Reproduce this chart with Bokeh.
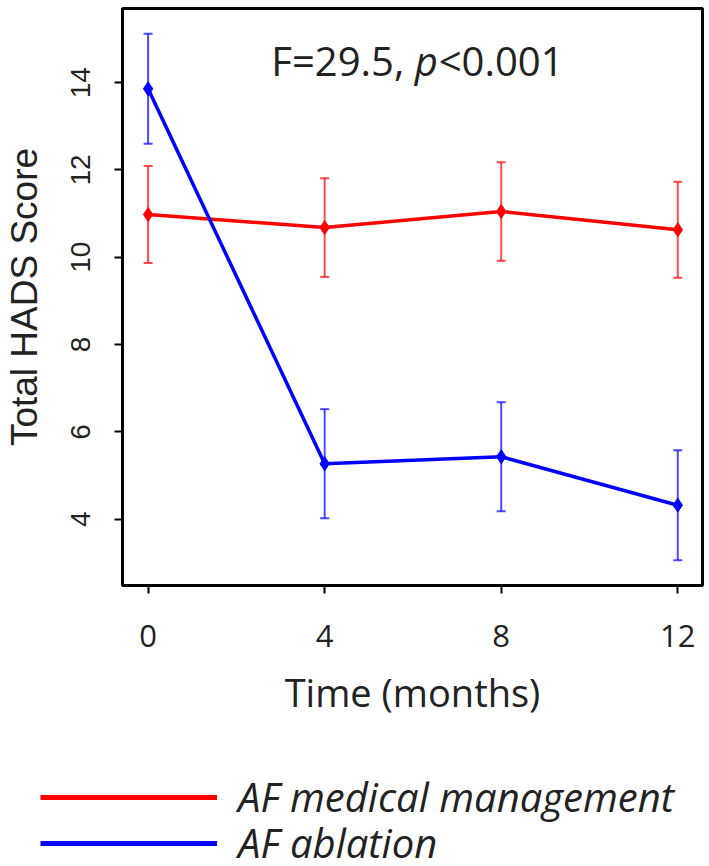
from bokeh.plotting import figure
from bokeh.models import (ColumnDataSource, FixedTicker, Range1d, Legend, LegendItem,
                          Whisker, TeeHead, Label)
from bokeh.embed import file_html
from bokeh.resources import INLINE

# ---- data ----
months = [0, 4, 8, 12]
medical_mean = [10.98, 10.68, 11.05, 10.63]
medical_err = [1.11, 1.13, 1.13, 1.10]
ablation_mean = [13.86, 5.27, 5.43, 4.32]
ablation_err = [1.26, 1.25, 1.25, 1.26]
x_ticks = [0, 4, 8, 12]
y_ticks = [4, 6, 8, 10, 12, 14]
series_names = ["AF medical management", "AF ablation"]
stat_left = "F=29.5, "
stat_p = "p"
stat_right = "<0.001"

RED = "#ff0000"
BLUE = "#0000ff"
CAL = "Open Sans"
ARI = "Liberation Sans"
TXT = "#222222"

p = figure(width=708, height=720, output_backend="svg", toolbar_location=None,
           x_range=Range1d(-0.58, 12.56), y_range=Range1d(2.48, 15.70),
           min_border_left=118, min_border_right=6, min_border_top=8,
           min_border_bottom=130)
p.grid.visible = False
p.outline_line_color = "black"
p.outline_line_width = 3
p.background_fill_color = "white"
p.border_fill_color = "white"

def src(mean, err):
    return ColumnDataSource(dict(x=months, y=mean,
                                 lo=[m - e for m, e in zip(mean, err)],
                                 hi=[m + e for m, e in zip(mean, err)]))

s_med = src(medical_mean, medical_err)
s_abl = src(ablation_mean, ablation_err)

for s, col in [(s_med, RED), (s_abl, BLUE)]:
    w = Whisker(source=s, base="x", upper="hi", lower="lo",
                line_color=col, line_width=2, line_alpha=0.7,
                upper_head=TeeHead(size=9, line_color=col, line_width=2, line_alpha=0.7),
                lower_head=TeeHead(size=9, line_color=col, line_width=2, line_alpha=0.7))
    p.add_layout(w)
    p.line("x", "y", source=s, line_color=col, line_width=3.5)
    p.scatter("x", "y", source=s, marker="diamond", size=14, color=col)

# axes
p.xaxis.ticker = FixedTicker(ticks=x_ticks)
p.yaxis.ticker = FixedTicker(ticks=y_ticks)
for ax in (p.xaxis[0], p.yaxis[0]):
    ax.minor_tick_line_color = None
    ax.major_tick_in = 0
    ax.major_tick_out = 8
    ax.major_tick_line_width = 2
    ax.axis_line_width = 3
    ax.major_label_text_color = TXT
    ax.axis_label_text_color = TXT
    ax.axis_label_text_font_style = "normal"

p.xaxis.major_label_text_font = CAL
p.xaxis.major_label_text_font_size = "31px"
p.xaxis.major_label_standoff = 31
p.xaxis.axis_label = "Time (months)"
p.xaxis.axis_label_text_font = CAL
p.xaxis.axis_label_text_font_size = "38px"
p.xaxis.axis_label_standoff = 16

p.yaxis.major_label_orientation = "vertical"
p.yaxis.major_label_text_font = ARI
p.yaxis.major_label_text_font_size = "28px"
p.yaxis.major_label_standoff = 24
p.yaxis.axis_label = "Total HADS Score"
p.yaxis.axis_label_text_font = ARI
p.yaxis.axis_label_text_font_size = "37px"
p.yaxis.axis_label_standoff = 24

# annotation (F statistic with italic p)
ax_x, ax_y = 6.04, 14.52
p.add_layout(Label(x=ax_x, y=ax_y, text=stat_left, text_font=CAL, text_font_size="40px",
                   text_align="right", text_baseline="alphabetic", text_color=TXT))
p.add_layout(Label(x=ax_x, y=ax_y, text=stat_p, text_font=CAL, text_font_size="40px",
                   text_font_style="italic", text_align="left", text_baseline="alphabetic",
                   text_color=TXT))
p.add_layout(Label(x=ax_x, y=ax_y, x_offset=24, text=stat_right, text_font=CAL,
                   text_font_size="40px", text_align="left", text_baseline="alphabetic",
                   text_color=TXT))

# legend panel below the chart (series drawn off-view, only their legend shows)
lf = figure(width=708, height=146, output_backend="svg", toolbar_location=None,
            x_range=Range1d(100, 101), y_range=Range1d(100, 101),
            x_axis_location=None, y_axis_location=None, min_border=0,
            min_border_left=0, min_border_right=0, min_border_top=0, min_border_bottom=0)
lf.grid.visible = False
lf.outline_line_color = None
lr_med = lf.line("x", "y", source=s_med, line_color=RED, line_width=5)
lr_abl = lf.line("x", "y", source=s_abl, line_color=BLUE, line_width=5)

def make_legend(label, rend, yloc):
    return Legend(items=[LegendItem(label=label, renderers=[rend])],
                  location=(40, yloc), orientation="vertical",
                  label_text_font=CAL, label_text_font_style="italic",
                  label_text_font_size="40px", label_text_color=TXT,
                  glyph_width=177, glyph_height=40, label_standoff=21,
                  border_line_color=None, background_fill_alpha=0,
                  margin=0, padding=0)

lf.add_layout(make_legend(series_names[0], lr_med, 42))
lf.add_layout(make_legend(series_names[1], lr_abl, -4))

open("out.html", "w").write(file_html([p, lf], INLINE))
